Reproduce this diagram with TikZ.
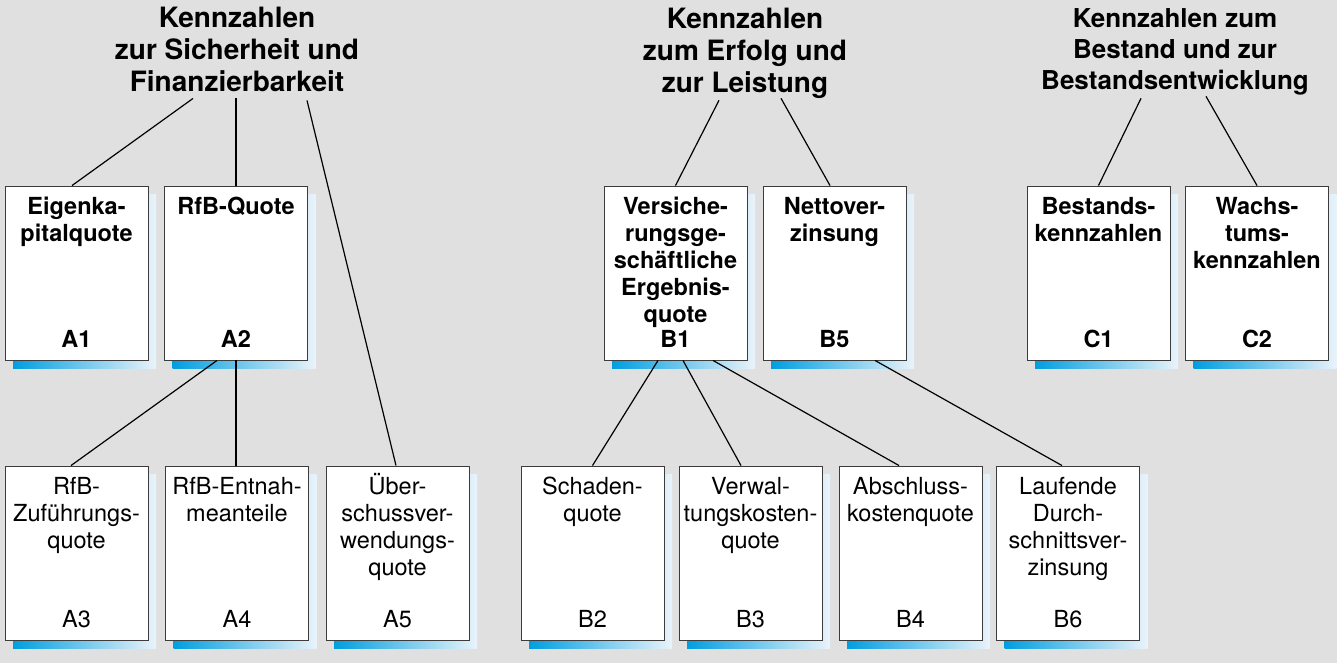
\documentclass[tikz,border=0pt]{standalone}
\usepackage{fontspec}
\setmainfont{TeX Gyre Heros}
\usetikzlibrary{shadows}
\definecolor{bggray}{RGB}{224,224,224}
\definecolor{boxline}{RGB}{60,60,60}
\definecolor{shadowA}{RGB}{0,158,224}
\definecolor{shadowB}{RGB}{234,243,250}
\tikzset{ head/.style = { align=center % title over a group
        , inner sep = 0pt
        , anchor = base
        , font = \bfseries\fontsize{28}{32}\selectfont
        }
        , ktext/.style = { anchor=base % text at the top of a box, #1 = lines
        , yshift = {-2pt-#1*27pt}
        , align = center
        , inner sep = 0pt
        , font = \fontsize{23.5}{27}\selectfont
        }
        , ktextb/.style = { ktext=#1 % same, bold
        , font = \bfseries\fontsize{23.5}{27}\selectfont
        }
        , kcode/.style = { anchor=base % code at the foot of a box
        , yshift = 12.5pt
        , inner sep = 0pt
        , font = \fontsize{23.5}{27}\selectfont#1
        }
        , kcode/.default = {}
        }

\begin{document}
\begin{tikzpicture}[x=1pt, y=-1pt,
        box_style/.style={rectangle, draw=boxline, line width=0.9pt, fill=white,
            minimum width=143pt, minimum height=174pt, inner sep=0pt,
            general shadow={shade, left color=shadowA, right color=shadowB,
                shadow xshift=8pt, shadow yshift=-8pt}},
        edge_style/.style={draw=black, line width=1.2pt}]
        \fill [bggray] (0,0) rectangle (1337,663);
        \useasboundingbox (0,0) rectangle (1337,663);

        \node [head] (T1) at (237,92) {Kennzahlen\\zur Sicherheit und\\Finanzierbarkeit};
        \node [head] (T2) at (745,93) {Kennzahlen\\zum Erfolg und\\zur Leistung};
        \node [head, font=\bfseries\fontsize{26}{31}\selectfont] (T3) at (1175,90) {Kennzahlen zum\\Bestand und zur\\Bestandsentwicklung};

        \node [box_style, label={[ktextb=2]north:{Eigenka-\\pitalquote}}, label={[kcode=\bfseries]south:A1}] (A1) at (76.5,273) {};
        \node [box_style, label={[ktextb=1]north:{RfB-Quote}}, label={[kcode=\bfseries]south:A2}] (A2) at (236,273) {};
        \node [box_style, label={[ktextb=5]north:{Versiche-\\rungsge-\\schäftliche\\Ergebnis-\\quote}}, label={[kcode=\bfseries]south:B1}] (B1) at (675.5,273) {};
        \node [box_style, label={[ktextb=2]north:{Nettover-\\zinsung}}, label={[kcode=\bfseries]south:B5}] (B5) at (834.5,273) {};
        \node [box_style, label={[ktextb=2]north:{Bestands-\\kennzahlen}}, label={[kcode=\bfseries]south:C1}] (C1) at (1098.5,273) {};
        \node [box_style, label={[ktextb=3]north:{Wachs-\\tums-\\kennzahlen}}, label={[kcode=\bfseries]south:C2}] (C2) at (1257,273) {};

        \node [box_style, label={[ktext=3]north:{RfB-\\Zuführungs-\\quote}}, label={[kcode]south:A3}] (A3) at (76.5,553) {};
        \node [box_style, label={[ktext=2]north:{RfB-Entnah-\\meanteile}}, label={[kcode]south:A4}] (A4) at (237,553) {};
        \node [box_style, label={[ktext=4]north:{Über-\\schussver-\\wendungs-\\quote}}, label={[kcode]south:A5}] (A5) at (397.5,553) {};
        \node [box_style, label={[ktext=2]north:{Schaden-\\quote}}, label={[kcode]south:B2}] (B2) at (592.5,553) {};
        \node [box_style, label={[ktext=3]north:{Verwal-\\tungskosten-\\quote}}, label={[kcode]south:B3}] (B3) at (750.5,553) {};
        \node [box_style, label={[ktext=2]north:{Abschluss-\\kostenquote}}, label={[kcode]south:B4}] (B4) at (910.5,553) {};
        \node [box_style, label={[ktext=4]north:{Laufende\\Durch-\\schnittsver-\\zinsung}}, label={[kcode]south:B6}] (B6) at (1068,553) {};

        \draw [edge_style] ([xshift=-44pt,yshift=-6pt]T1.south) -- ([xshift=-4.5pt]A1.north);
        \draw [edge_style] ([xshift=-1pt,yshift=-6pt]T1.south) -- (A2.north);
        \draw [edge_style] ([xshift=70pt,yshift=-8pt]T1.south) -- ([xshift=-1.5pt]A5.north);
        \draw [edge_style] ([xshift=-19pt]A2.south) -- ([xshift=-5.5pt]A3.north);
        \draw [edge_style] (A2.south) -- ([xshift=-1pt]A4.north);
        \draw [edge_style] ([xshift=-26pt,yshift=-1pt]T2.south) -- (B1.north);
        \draw [edge_style] ([xshift=36pt,yshift=1pt]T2.south) -- ([xshift=-4.5pt]B5.north);
        \draw [edge_style] ([xshift=-34pt,yshift=-2.5pt]T3.south) -- (C1.north);
        \draw [edge_style] ([xshift=31pt,yshift=-0.5pt]T3.south) -- (C2.north);
        \draw [edge_style] ([xshift=-17.5pt]B1.south) -- (B2.north);
        \draw [edge_style] ([xshift=7.5pt]B1.south) -- ([xshift=-9.5pt]B3.north);
        \draw [edge_style] ([xshift=37.5pt]B1.south) -- ([xshift=-11.5pt]B4.north);
        \draw [edge_style] ([xshift=40.5pt]B5.south) -- ([xshift=-6pt]B6.north);
\end{tikzpicture}
\end{document}
